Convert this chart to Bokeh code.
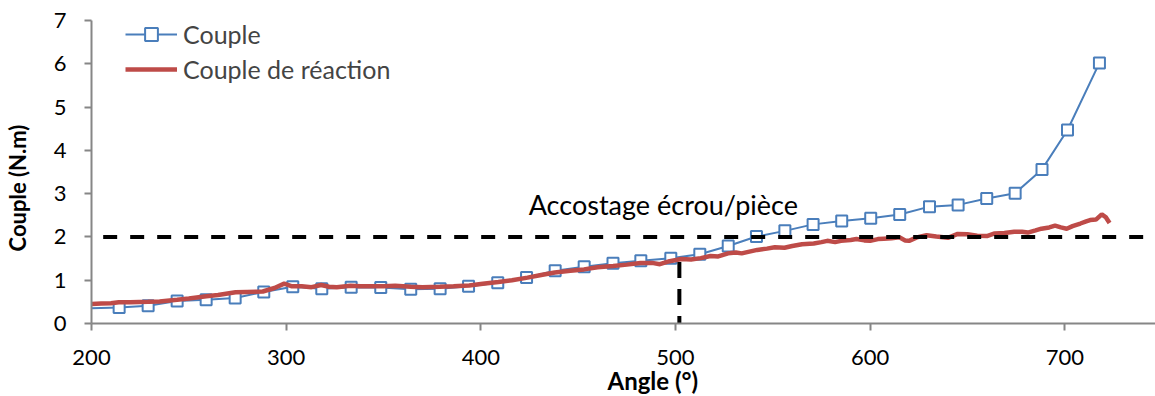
from bokeh.plotting import figure
from bokeh.models import Range1d, Label, FixedTicker, Legend, LegendItem, Title
from bokeh.embed import file_html
from bokeh.resources import INLINE

# ---- data ----
couple_angle = [200, 214.2, 229.1, 244.0, 258.9, 273.8, 288.5, 303.4, 318.3, 333.4,
                348.6, 364.0, 379.1, 393.7, 408.7, 423.5, 438.2, 453.1, 467.9, 482.2,
                497.6, 512.5, 527.1, 541.6, 556.2, 570.7, 585.4, 600.3, 615.2, 630.5,
                645.2, 659.9, 674.5, 688.3, 701.4, 717.8]
couple_value = [0.35, 0.37, 0.41, 0.52, 0.55, 0.59, 0.73, 0.85, 0.80, 0.84,
                0.83, 0.79, 0.80, 0.86, 0.94, 1.06, 1.22, 1.31, 1.39, 1.45,
                1.51, 1.60, 1.79, 2.01, 2.14, 2.29, 2.37, 2.43, 2.52, 2.70,
                2.74, 2.89, 3.01, 3.56, 4.47, 6.02]

reaction_angle = [200, 205, 210, 214, 220, 229, 235, 244, 250, 259, 265, 274, 280, 288,
                  294, 299, 303, 308, 313, 318, 322, 326, 333, 338, 345, 350, 356, 364,
                  370, 379, 386, 394, 401, 409, 416, 424, 431, 438, 446, 453, 460, 468,
                  475, 482, 488, 492, 497, 503, 508, 513, 518, 522, 527, 531, 534, 538,
                  542, 547, 551, 556, 560, 565, 571, 575, 578, 582, 585, 590, 593, 597,
                  600, 604, 607, 611, 615, 618, 620, 624, 629, 634, 640, 645, 650, 655,
                  660, 664, 669, 674, 678, 681, 685, 688, 692, 695, 698, 701, 704, 708,
                  711, 713, 716, 719, 721, 723]
reaction_value = [0.45, 0.46, 0.47, 0.49, 0.49, 0.50, 0.51, 0.55, 0.58, 0.63, 0.66, 0.72, 0.73, 0.74,
                  0.82, 0.92, 0.86, 0.86, 0.84, 0.89, 0.85, 0.84, 0.87, 0.86, 0.86, 0.86, 0.87, 0.85,
                  0.84, 0.85, 0.86, 0.88, 0.92, 0.96, 1.00, 1.06, 1.12, 1.18, 1.22, 1.25, 1.30, 1.33,
                  1.36, 1.40, 1.40, 1.37, 1.44, 1.49, 1.48, 1.51, 1.56, 1.55, 1.62, 1.64, 1.62, 1.66,
                  1.70, 1.73, 1.76, 1.75, 1.79, 1.83, 1.85, 1.88, 1.91, 1.88, 1.91, 1.93, 1.95, 1.92,
                  1.91, 1.95, 1.96, 1.97, 1.99, 1.92, 1.91, 1.99, 2.04, 2.01, 1.98, 2.07, 2.06, 2.03,
                  2.02, 2.08, 2.09, 2.12, 2.12, 2.10, 2.15, 2.19, 2.22, 2.26, 2.22, 2.19, 2.25, 2.31,
                  2.36, 2.39, 2.40, 2.52, 2.46, 2.32]

seuil_angle = [206, 750]
seuil_value = [2, 2]
accostage_angle = [502, 502]
accostage_value = [1.42, 0]

x_ticks = [200, 300, 400, 500, 600, 700]
y_ticks = [0, 1, 2, 3, 4, 5, 6, 7]

series_names = ["Couple", "Couple de réaction"]
annotation_text = "Accostage écrou/pièce"
x_title = "Angle (°)"
y_title = "Couple (N.m)"

# ---- style ----
BLUE = "#4A7EBB"
RED = "#BE4B48"
GRAY = "#868686"
FONT = "Lato"

p = figure(width=1155, height=396, output_backend="svg", toolbar_location=None,
           x_range=Range1d(200, 746.6), y_range=Range1d(0, 7),
           min_border_left=91, min_border_right=0, min_border_top=20, min_border_bottom=73)
p.outline_line_color = None
p.xgrid.visible = False
p.ygrid.visible = False
p.background_fill_color = "white"
p.border_fill_color = "white"

for ax in (p.xaxis[0], p.yaxis[0]):
    ax.axis_line_color = GRAY
    ax.axis_line_width = 2
    ax.major_tick_line_color = GRAY
    ax.major_tick_line_width = 2
    ax.major_tick_in = 0
    ax.major_tick_out = 7
    ax.minor_tick_line_color = None
    ax.major_label_text_font = FONT
    ax.major_label_text_font_size = "22px"
    ax.major_label_text_color = "black"

p.xaxis.ticker = FixedTicker(ticks=x_ticks)
p.yaxis.ticker = FixedTicker(ticks=y_ticks)
p.xaxis.major_label_standoff = 19
p.yaxis.major_label_standoff = 18

# trailing spaces shift the rotated title down so it sits where the reference has it
p.yaxis.axis_label = y_title + "      "
p.yaxis.axis_label_text_font = FONT
p.yaxis.axis_label_text_font_size = "22px"
p.yaxis.axis_label_text_font_style = "bold"
p.yaxis.axis_label_text_color = "black"
p.yaxis.axis_label_standoff = 20

# x-axis title, placed under the axis
p.add_layout(Title(text=x_title, align="left", offset=516, standoff=-3,
                   text_font=FONT, text_font_size="24px", text_font_style="bold",
                   text_color="black", vertical_align="top"), "below")

# blue series
r_line = p.line(couple_angle, couple_value, line_color=BLUE, line_width=2)
r_mark = p.scatter(couple_angle[1:], couple_value[1:], marker="square", size=11,
                   line_color=BLUE, line_width=2, fill_color="white")
# red series
r_red = p.line(reaction_angle, reaction_value, line_color=RED, line_width=4.5)
# dashed lines
p.line(seuil_angle, seuil_value, line_color="black", line_width=4, line_dash="14 13")
p.line(accostage_angle, accostage_value, line_color="black", line_width=4, line_dash="16 11")

p.add_layout(Label(x=424.6, y=2.74, text=annotation_text, text_font=FONT,
                   text_font_size="27px", text_baseline="middle", text_color="black"))

legend = Legend(items=[LegendItem(label=series_names[0], renderers=[r_line, r_mark]),
                       LegendItem(label=series_names[1], renderers=[r_red])],
                location=(34, 238), margin=0, padding=0, spacing=3,
                glyph_width=52, glyph_height=32, label_height=32, label_standoff=6,
                label_text_font=FONT, label_text_font_size="25px",
                border_line_color=None, background_fill_alpha=0)
p.add_layout(legend)

open("out.html", "w").write(file_html(p, INLINE))
